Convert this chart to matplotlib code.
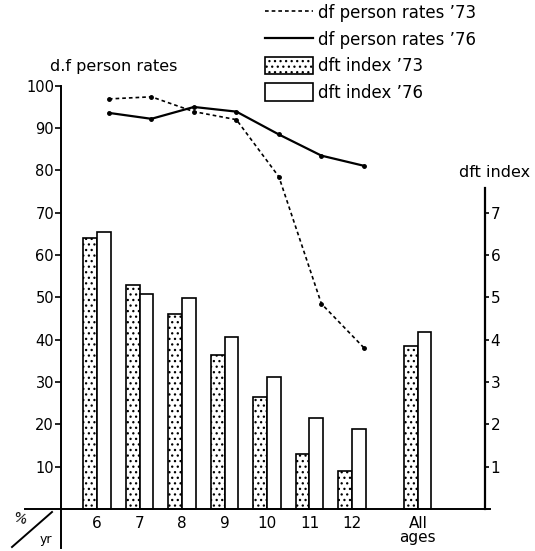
import matplotlib.pyplot as plt
from matplotlib.lines import Line2D
from matplotlib.patches import Patch

plt.rcParams['font.family'] = 'DejaVu Sans'
plt.rcParams['hatch.linewidth'] = 0.9

# age groups and their positions along the x axis
ages = ['6', '7', '8', '9', '10', '11', '12', 'All\nages']
age_pos = [0, 1, 2, 3, 4, 5, 6, 7.55]

# dft index (right axis)
dft_73 = [6.4, 5.3, 4.6, 3.65, 2.65, 1.3, 0.9, 3.85]
dft_76 = [6.55, 5.08, 4.98, 4.07, 3.12, 2.15, 1.9, 4.18]

# df person rates in % (left axis), single ages only
rates_73 = [96.9, 97.4, 93.9, 92.0, 78.5, 48.5, 38.1]
rates_76 = [93.6, 92.2, 95.0, 93.9, 88.5, 83.5, 81.1]

W, H = 535, 551
fig = plt.figure(figsize=(W / 100, H / 100), dpi=100)
ax = fig.add_axes([20 / W, 0, 475 / W, (H - 60) / H])

ax.set_xlim(-1.812, 9.365)
ax.set_ylim(-9.93, 106.1)

# left axis
ax.spines['left'].set_position(('data', -0.847))
ax.spines['left'].set_bounds(-9.2, 100)
ax.spines['bottom'].set_position(('data', 0))
ax.spines['bottom'].set_bounds(-1.69, 9.25)
ax.spines['top'].set_visible(False)
ax.spines['right'].set_visible(False)
for s in ['left', 'bottom']:
    ax.spines[s].set_linewidth(1.4)

ax.set_yticks(range(10, 101, 10))
ax.tick_params(axis='y', direction='out', length=4, width=1.2, pad=1, labelsize=10.5)
ax.set_xticks(age_pos)
ax.set_xticklabels(ages, fontsize=11, linespacing=0.9)
ax.tick_params(axis='x', length=0, pad=5)

# right axis for dft index
ax2 = ax.twinx()
ax2.set_ylim(-0.993, 10.61)
for s in ['top', 'left', 'bottom']:
    ax2.spines[s].set_visible(False)
ax2.spines['right'].set_position(('data', 9.13))
ax2.spines['right'].set_bounds(0, 7.59)
ax2.spines['right'].set_linewidth(1.6)
ax2.set_yticks(range(1, 8))
ax2.tick_params(axis='y', direction='out', length=3, width=1.2, pad=1, labelsize=11)

w = 0.32
x73 = [p - w / 2 for p in age_pos]
x76 = [p + w / 2 for p in age_pos]
ax2.bar(x73, dft_73, width=w, facecolor='white', edgecolor='black',
        hatch='...', linewidth=1.2, zorder=3)
ax2.bar(x76, dft_76, width=w, facecolor='white', edgecolor='black',
        linewidth=1.2, zorder=3)

# rate lines sit on the right edge of each group
xl = [p + 0.28 for p in age_pos[:7]]
ax.plot(xl, rates_73, color='black', linestyle=(0, (2.2, 1.8)), linewidth=1.2,
        marker='o', markersize=2.5, zorder=4)
ax.plot(xl, rates_76, color='black', linestyle='-', linewidth=1.6,
        marker='o', markersize=2.5, zorder=4)
ax.set_zorder(ax2.get_zorder() + 1)
ax.patch.set_visible(False)

# axis titles
fig.text(114 / W, 1 - 66 / H, 'd.f person rates', ha='center', va='center', fontsize=11.5)
fig.text(495 / W, 1 - 172 / H, 'dft index', ha='center', va='center', fontsize=11.5)

# corner label
fig.add_artist(Line2D([12 / W, 52 / W], [1 - 547 / H, 1 - 512 / H], color='black',
                      linewidth=1.4))
fig.text(20 / W, 1 - 519 / H, '%', ha='center', va='center', fontsize=10, rotation=-15)
fig.text(46 / W, 1 - 540 / H, 'yr', ha='center', va='center', fontsize=9)

handles = [
    Line2D([], [], color='black', linestyle=(0, (2.2, 1.8)), linewidth=1.2),
    Line2D([], [], color='black', linewidth=1.6),
    Patch(facecolor='white', edgecolor='black', hatch='...', linewidth=1.2),
    Patch(facecolor='white', edgecolor='black', linewidth=1.2),
]
labels = ['df person rates \u201973', 'df person rates \u201976',
          'dft index \u201973', 'dft index \u201976']
fig.legend(handles, labels, loc='upper left', bbox_to_anchor=(250 / W, 1.02),
           frameon=False, fontsize=12, handlelength=2.9, handleheight=1.2,
           handletextpad=0.3, labelspacing=0.5)

fig.savefig('out.png', dpi=100)
